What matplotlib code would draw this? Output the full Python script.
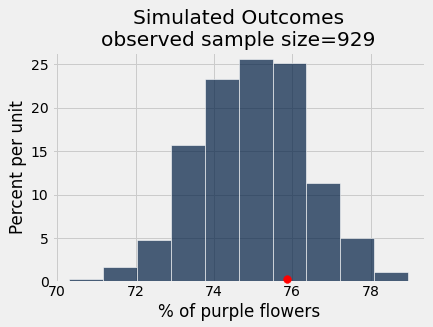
import matplotlib
matplotlib.use('Agg')
import matplotlib.pyplot as plt
import numpy as np

plt.style.use('fivethirtyeight')

# bin edges (% purple) and bar heights (percent per unit)
bin_edges = np.linspace(70.3, 78.96, 11)
heights = [0.3, 1.75, 4.85, 15.7, 23.25, 25.55, 25.1, 11.3, 5.0, 1.15]
observed = 75.87

fig = plt.figure(figsize=(433 / 72, 327 / 72), dpi=72)
ax = fig.add_axes([0.12, 0.138, 0.862, 0.703])

centers = (bin_edges[:-1] + bin_edges[1:]) / 2
ax.hist(centers, bins=bin_edges, weights=heights,
        color=(0, 30 / 256, 66 / 256), alpha=0.7, edgecolor='w', linewidth=0.8)
ax.scatter([observed], [0.3], color='red', s=60, zorder=3, clip_on=False)

ax.set_ylim(0, 26.4)
ax.set_xticks([70, 72, 74, 76, 78])
ax.set_yticks([0, 5, 10, 15, 20, 25])
ax.set_xlabel('% of purple flowers')
ax.set_ylabel('Percent per unit')
ax.set_title('Simulated Outcomes\nobserved sample size=929')

plt.savefig('out.png', dpi=72)
